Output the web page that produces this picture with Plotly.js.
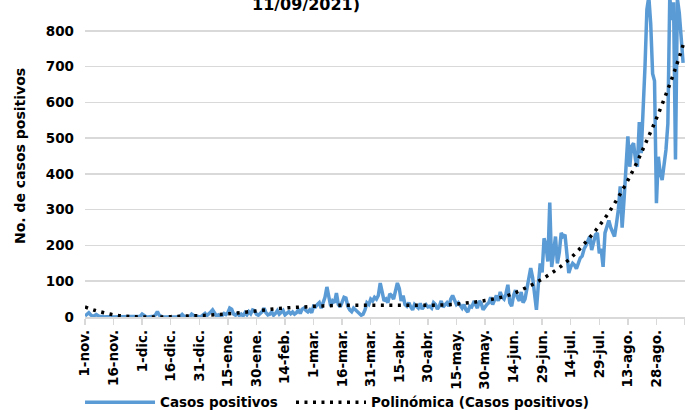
<!DOCTYPE html>
<html><head><meta charset="utf-8">
<script src="https://cdn.plot.ly/plotly-3.0.1.min.js"></script>
<style>
html,body{margin:0;padding:0;overflow:hidden;background:#fff;width:685px;height:410px}
#chart{position:absolute;left:0;top:-40px;width:685px;height:470px}
</style>
</head><body><div id="chart"></div>
<script>
// Daily positive cases, 1 Nov 2020 - 11 Sep 2021
const startDate = [2020, 10, 1];
const casosNov = [3,8,12,6,2,4,7,3,1,2,0,1,2,1,0,0,1,0,2,1,0,0,1,0,0,1,0,0,0,2];
const casosDic = [8,3,1,0,1,0,2,6,15,5,1,0,0,1,0,0,1,0,0,1,2,7,2,1,0,1,8,3,1,2,0];
const casosEne = [2,5,10,4,8,14,20,9,3,6,2,4,10,7,12,25,22,8,5,10,4,8,3,12,6,15,9,20,18,8,5];
const casosFeb = [10,15,25,12,6,8,14,5,10,18,8,12,18,6,10,15,9,14,8,12,20,10,22,25,18,14,20,12];
const casosMar = [30,28,35,40,25,38,55,84,50,30,45,40,67,35,28,40,55,53,30,20,15,25,20,12,10,5,8,20,40,35,50];
const casosAbr = [45,55,50,60,95,70,45,50,40,65,60,50,75,95,80,45,60,35,30,40,28,20,35,30,25,38,22,30,35,28];
const casosMay = [30,25,40,35,22,30,45,28,35,40,30,50,60,45,35,40,30,25,35,20,14,30,28,40,35,25,45,38,20,30,35];
const casosJun = [40,55,35,50,60,45,70,55,50,65,90,40,30,60,75,55,45,70,40,50,80,110,137,110,60,20,90,150,125,220];
const casosJul = [200,155,320,140,180,225,150,180,235,225,230,170,123,140,150,145,135,150,165,170,190,200,210,225,187,205,230,235,178,190,140];
const casosAgo = [235,255,270,250,235,225,260,300,365,250,328,430,505,420,477,486,440,420,545,458,560,700,860,895,820,680,660,318,448,402,383];
const casosSep = [420,467,540,895,830,880,440,890,850,760,710];

// Polynomial trend (day offset from 1 Nov 2020, value)
const trendDays = [0,5,10,15,20,25,30,35,40,45,50,55,60,65,70,75,80,85,90,95,100,105,110,115,120,125,130,135,140,145,150,155,160,165,170,175,180,185,190,195,200,205,210,215,220,225,230,235,240,245,250,255,260,265,270,275,280,285,290,295,300,305,310,314];
const trendVals = [28,19,12,6,3,1,0,0,0,1,2,3,4,5,7,9,11,14,17,20,23,25,27,28,30,31,32,33,33,33,33,33,33,33,33,33,33,33,34,36,39,42,46,51,57,66,78,91,106,123,142,165,192,222,255,292,335,382,435,494,555,622,695,760];

const tickDates = ['2020-11-01','2020-11-16','2020-12-01','2020-12-16','2020-12-31','2021-01-15','2021-01-30','2021-02-14','2021-03-01','2021-03-16','2021-03-31','2021-04-15','2021-04-30','2021-05-15','2021-05-30','2021-06-14','2021-06-29','2021-07-14','2021-07-29','2021-08-13','2021-08-28','2021-09-12'];
const tickLabels = ['1-nov.','16-nov.','1-dic.','16-dic.','31-dic.','15-ene.','30-ene.','14-feb.','1-mar.','16-mar.','31-mar.','15-abr.','30-abr.','15-may.','30-may.','14-jun.','29-jun.','14-jul.','29-jul.','13-ago.','28-ago.',''];

const casos = [].concat(casosNov,casosDic,casosEne,casosFeb,casosMar,casosAbr,casosMay,casosJun,casosJul,casosAgo,casosSep);
function dayToDate(d){
  const dt = new Date(Date.UTC(startDate[0], startDate[1], startDate[2] + d));
  return dt.toISOString().slice(0,10);
}
const fechas = casos.map((_, i) => dayToDate(i));
const trendX = trendDays.map(dayToDate);

const F = 'DejaVu Sans';
const legFont = {family: F, size: 13.5, color: '#000', weight: 'bold'};
const traces = [
  {x: fechas, y: casos, type: 'scatter', mode: 'lines', name: 'Casos positivos',
   line: {color: '#5B9BD5', width: 3.5}, legend: 'legend'},
  {x: trendX, y: trendVals, type: 'scatter', mode: 'lines', name: 'Polinómica (Casos positivos)',
   line: {color: '#000000', width: 3.5, dash: '3px,5.5px', shape: 'spline'}, legend: 'legend2'}
];

const layout = {
  width: 685, height: 470,
  margin: {l: 85, r: 0, t: 35, b: 113},
  paper_bgcolor: '#ffffff', plot_bgcolor: '#ffffff',
  showlegend: true,
  xaxis: {
    type: 'date', range: ['2020-11-01', '2021-09-12'],
    tickmode: 'array', tickvals: tickDates, ticktext: tickLabels,
    tickangle: -90, ticks: 'outside', ticklen: 6, tickcolor: '#d9d9d9', tickwidth: 1.5,
    showgrid: false, showline: true, linecolor: '#d9d9d9', linewidth: 1.5,
    zeroline: false,
    tickfont: {family: F, size: 13.5, color: '#000', weight: 'bold'}
  },
  yaxis: {
    range: [0, 900], dtick: 100, tick0: 0,
    showgrid: true, gridcolor: '#d9d9d9', gridwidth: 1.5,
    zeroline: false, showline: false, ticks: '',
    ticklabelstandoff: 10,
    tickfont: {family: F, size: 13.5, color: '#000', weight: 'bold'},
    title: {text: 'No. de casos positivos', standoff: 16,
            font: {family: F, size: 14, color: '#000', weight: 'bold'}}
  },
  legend: {
    orientation: 'h', x: -0.0083, xanchor: 'left', y: -0.217, yanchor: 'top',
    itemwidth: 70, font: legFont, bgcolor: 'rgba(0,0,0,0)'
  },
  legend2: {
    orientation: 'h', x: 0.3433, xanchor: 'left', y: -0.217, yanchor: 'top',
    itemwidth: 70, font: legFont, bgcolor: 'rgba(0,0,0,0)'
  },
  annotations: [
    {text: '11/09/2021)', xref: 'paper', yref: 'paper', x: 0.4617, xanchor: 'right',
     y: 1, yanchor: 'bottom', yshift: -21, showarrow: false,
     font: {family: F, size: 16, color: '#000', weight: 'bold'}}
  ]
};

Plotly.newPlot('chart', traces, layout, {staticPlot: true, displayModeBar: false});
</script>
</body></html>
